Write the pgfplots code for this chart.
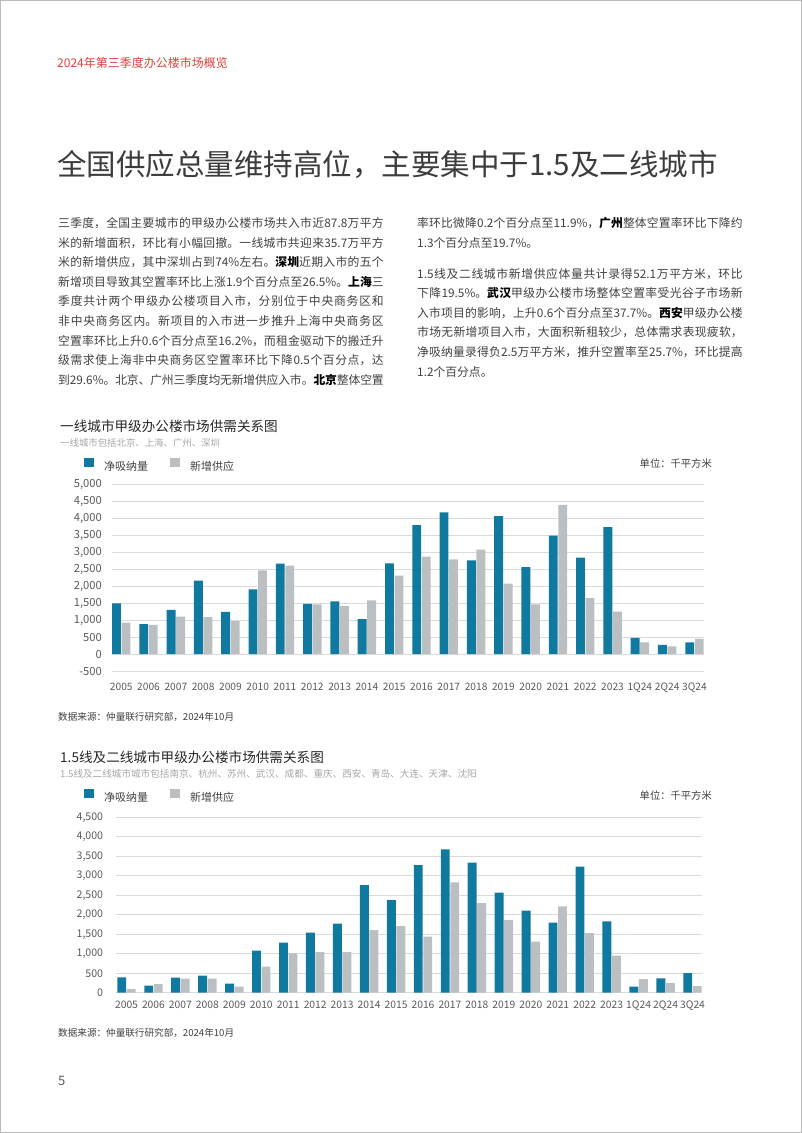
\documentclass[border=0pt]{standalone}
\usepackage{fontspec}
\setmainfont{Noto Sans CJK SC}
\usepackage{pgfplots}
\usepackage{pgfplotstable}
\pgfplotsset{compat=1.18}
\XeTeXlinebreaklocale "zh"
\XeTeXlinebreakskip=0pt plus 1pt minus 0.2pt

\definecolor{barblue}{HTML}{10799F}
\definecolor{bargray}{HTML}{BBBFC1}
\definecolor{gridc}{HTML}{DADADA}
\definecolor{bodyc}{HTML}{404040}
\definecolor{tickc}{HTML}{595959}
\definecolor{titlec}{HTML}{262626}
\definecolor{subc}{HTML}{A6A6A6}
\definecolor{headred}{HTML}{E0403A}

% 一线城市: 净吸纳量 / 新增供应 (千平方米)
\pgfplotstableread{
x blue gray
0 1486 925
1 876 856
2 1299 1102
3 2156 1083
4 1240 965
5 1900 2461
6 2657 2598
7 1476 1457
8 1545 1407
9 1024 1575
10 2667 2303
11 3789 2864
12 4163 2785
13 2756 3071
14 4055 2067
15 2559 1457
16 3484 4390
17 2835 1644
18 3730 1250
19 472 344
20 266 226
21 344 443
}\tierone

% 1.5线及二线城市
\pgfplotstableread{
x blue gray
0 394 94
1 180 222
2 385 359
3 436 359
4 231 154
5 1078 667
6 1283 1009
7 1540 1044
8 1771 1044
9 2763 1608
10 2378 1711
11 3276 1437
12 3678 2832
13 3336 2301
14 2566 1865
15 2104 1309
16 1796 2216
17 3234 1531
18 1831 950
19 154 351
20 368 248
21 505 171
}\tiertwo

\pgfplotsset{jllbars/.style={
  scale only axis, ybar=0.6pt, bar width=8.9pt,
  axis line style={draw=none}, major tick length=0pt,
  ymajorgrids, grid style={draw=gridc, line width=0.7pt},
  xtick={0,...,21},
  xticklabels={2005,2006,2007,2008,2009,2010,2011,2012,2013,2014,2015,2016,2017,2018,2019,2020,2021,2022,2023,1Q24,2Q24,3Q24},
  /pgf/number format/assume math mode=true,
  /pgf/number format/1000 sep={,},
  yticklabel style={anchor=east, inner sep=0pt, text=tickc},
  xticklabel style={anchor=north, inner sep=0pt, text=tickc},
  legend columns=2,
  legend image code/.code={\fill[##1,draw=none] (0pt,-0.6pt) rectangle (9.5pt,8.9pt);},
  legend style={draw=none, fill=none, anchor=west, inner sep=0pt,
    font=\fontsize{11pt}{13pt}\selectfont, text=bodyc,
    nodes={inner sep=0pt},
    /tikz/every odd column/.append style={column sep=10.5pt},
    /tikz/every even column/.append style={column sep=22pt}},
}}

\begin{document}
\begin{tikzpicture}[x=1pt,y=1pt]
\useasboundingbox (0,0) rectangle (802,-1133);
\draw[gray!55, line width=0.8pt] (0.4,-0.4) rectangle (801.6,-1132.6);

\tikzset{txt/.style={inner sep=0pt, anchor=west}}
\node[txt, text=headred, font=\fontsize{12pt}{14pt}\selectfont] at (57,-63) {2024年第三季度办公楼市场概览};
\node[txt, text=titlec!90, font=\fontsize{29.5pt}{34pt}\selectfont] at (57,-165) {全国供应总量维持高位，主要集中于1.5及二线城市};

\node[inner sep=0pt, anchor=north west, text width=325.5pt, align=justify, text=bodyc,
  font=\fontsize{11.8pt}{19.6pt}\selectfont] at (58,-217.2) {\parfillskip=0pt
三季度，全国主要城市的甲级办公楼市场共入市近87.8万平方\linebreak
米的新增面积，环比有小幅回撤。一线城市共迎来35.7万平方\linebreak
米的新增供应，其中深圳占到74\%左右。\textcolor{black}{\textbf{深圳}}近期入市的五个\linebreak
新增项目导致其空置率环比上涨1.9个百分点至26.5\%。\textcolor{black}{\textbf{上海}}三\linebreak
季度共计两个甲级办公楼项目入市，分别位于中央商务区和\linebreak
非中央商务区内。新项目的入市进一步推升上海中央商务区\linebreak
空置率环比上升0.6个百分点至16.2\%，而租金驱动下的搬迁升\linebreak
级需求使上海非中央商务区空置率环比下降0.5个百分点，达\linebreak
到29.6\%。北京、广州三季度均无新增供应入市。\textcolor{black}{\textbf{北京}}整体空置\par};

\node[inner sep=0pt, anchor=north west, text width=325.5pt, align=justify, text=bodyc,
  font=\fontsize{11.8pt}{19.6pt}\selectfont] at (417,-217.2) {%
率环比微降0.2个百分点至11.9\%，\textcolor{black}{\textbf{广州}}整体空置率环比下降约\linebreak
1.3个百分点至19.7\%。\par};

\node[inner sep=0pt, anchor=north west, text width=325.5pt, align=justify, text=bodyc,
  font=\fontsize{11.8pt}{19.6pt}\selectfont] at (417,-267.8) {%
1.5线及二线城市新增供应体量共计录得52.1万平方米，环比\linebreak
下降19.5\%。\textcolor{black}{\textbf{武汉}}甲级办公楼市场整体空置率受光谷子市场新\linebreak
入市项目的影响，上升0.6个百分点至37.7\%。\textcolor{black}{\textbf{西安}}甲级办公楼\linebreak
市场无新增项目入市，大面积新租较少，总体需求表现疲软，\linebreak
净吸纳量录得负2.5万平方米，推升空置率至25.7\%，环比提高\linebreak
1.2个百分点。\par};

% chart 1 texts
\node[txt, text=titlec, font=\fontsize{13.6pt}{16pt}\selectfont] at (60,-426) {一线城市甲级办公楼市场供需关系图};
\node[txt, text=subc, font=\fontsize{9.4pt}{11pt}\selectfont] at (60,-443) {一线城市包括北京、上海、广州、深圳};
\node[inner sep=0pt, anchor=east, text=bodyc, font=\fontsize{10.3pt}{12pt}\selectfont] at (712,-464) {单位：千平方米};
\node[txt, text=bodyc, font=\fontsize{9.6pt}{11pt}\selectfont] at (58,-717) {数据来源：仲量联行研究部，2024年10月};

\begin{axis}[jllbars,
  at={(111.7pt,-671pt)}, anchor=south west,
  width=592.3pt, height=187pt,
  xmin=-0.35, xmax=21.35, ymin=-500, ymax=5000,
  ytick={-500,0,500,...,5000},
  yticklabel style={xshift=-9.7pt, font=\fontsize{11.2pt}{13pt}\selectfont},
  xticklabel style={yshift=-11.6pt, font=\fontsize{10.2pt}{12pt}\selectfont},
  legend style={at={(-0.0468,1.1016)}},
]
\addplot[fill=barblue, draw=none] table[x=x, y=blue] {\tierone};
\addplot[fill=bargray, draw=none] table[x=x, y=gray] {\tierone};
\legend{净吸纳量, 新增供应}
\end{axis}

% chart 2 texts
\node[txt, text=titlec, font=\fontsize{13.6pt}{16pt}\selectfont] at (60,-757) {1.5线及二线城市甲级办公楼市场供需关系图};
\node[txt, text=subc, font=\fontsize{9.6pt}{11pt}\selectfont] at (60,-774) {1.5线及二线城市城市包括南京、杭州、苏州、武汉、成都、重庆、西安、青岛、大连、天津、沈阳};
\node[inner sep=0pt, anchor=east, text=bodyc, font=\fontsize{10.3pt}{12pt}\selectfont] at (712,-796) {单位：千平方米};
\node[txt, text=bodyc, font=\fontsize{9.6pt}{11pt}\selectfont] at (58,-1033) {数据来源：仲量联行研究部，2024年10月};
\node[txt, text=tickc, font=\fontsize{13pt}{15pt}\selectfont] at (58,-1081) {5};

\begin{axis}[jllbars,
  at={(116pt,-992.7pt)}, anchor=south west,
  width=585.7pt, height=175.4pt,
  xmin=-0.39, xmax=21.34, ymin=0, ymax=4500,
  ytick={0,500,...,4500},
  yticklabel style={xshift=-12.7pt, font=\fontsize{10.6pt}{12pt}\selectfont},
  xticklabel style={yshift=-7.9pt, font=\fontsize{10.3pt}{12pt}\selectfont},
  legend style={at={(-0.0546,1.1214)}},
]
\addplot[fill=barblue, draw=none] table[x=x, y=blue] {\tiertwo};
\addplot[fill=bargray, draw=none] table[x=x, y=gray] {\tiertwo};
\legend{净吸纳量, 新增供应}
\end{axis}
\end{tikzpicture}
\end{document}
